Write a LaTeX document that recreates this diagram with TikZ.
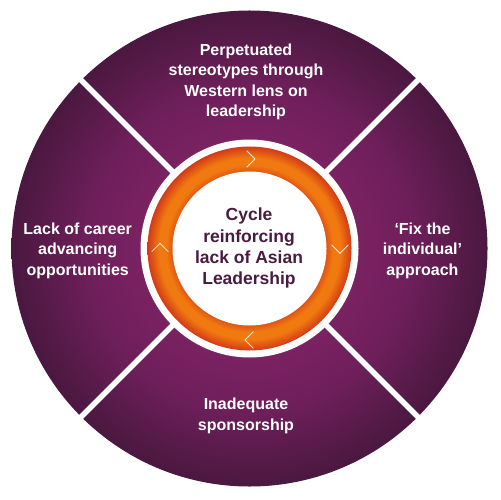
\documentclass[tikz,border=0pt]{standalone}
\usepackage{fontspec}
\setmainfont{Liberation Sans}
\usetikzlibrary{calc}
\definecolor{purpA}{HTML}{7B2263}
\definecolor{purpM}{HTML}{6E1F5A}
\definecolor{purpB}{HTML}{4A1840}
\definecolor{ringR}{HTML}{D43A18}
\definecolor{ringI}{HTML}{E05316}
\definecolor{ringO}{HTML}{F07A10}
\definecolor{centretext}{HTML}{4A1B41}
\pgfdeclareradialshading{purplebg}{\pgfpoint{0bp}{0bp}}{color(0bp)=(purpA); color(11bp)=(purpA); color(17bp)=(purpM); color(25bp)=(purpB); color(50bp)=(purpB)}
\pgfdeclareradialshading{orangering}{\pgfpoint{0bp}{0bp}}{color(0bp)=(ringI); color(18.8bp)=(ringI); color(20.5bp)=(ringO); color(22.2bp)=(ringO); color(25bp)=(ringR); color(50bp)=(ringR)}
\tikzset{
  outertext/.style={text=white, font=\bfseries\fontsize{16bp}{20.5bp}\selectfont, align=center, inner sep=0pt},
  centrelabel/.style={text=centretext, font=\bfseries\fontsize{17.5bp}{21.4bp}\selectfont, align=center, inner sep=0pt},
  divider/.style={white, line width=5.5bp},
  chevron/.style={white, opacity=0.85, line width=0.8bp}
}
\begin{document}
\begin{tikzpicture}[x=1bp,y=-1bp]
\useasboundingbox (0,0) rectangle (500,500);
\fill[white] (0,0) rectangle (500,500);
\coordinate (c) at (249.5,248.5);
% big purple disc
\shade[shading=purplebg] (c) circle (238);
% dividers
\foreach \a/\n in {45/a,135/b,225/c2,315/d}{
  \coordinate (in\n) at ($(c)+(\a:100)$);
  \coordinate (out\n) at ($(c)+(\a:240)$);
  \draw[divider] (in\n) -- (out\n);
}
% white border and orange ring
\fill[white] (c) circle (109);
\shade[shading=orangering] (c) circle (102);
\fill[white] (c) circle (77);
% chevrons (clockwise)
\draw[chevron] (246.7,150.7) -- (255,159) -- (246.7,167.3);
\draw[chevron] (331.7,245) -- (340,253.3) -- (348.3,245);
\draw[chevron] (253.3,331.7) -- (245,340) -- (253.3,348.3);
\draw[chevron] (151.7,251.7) -- (160,243.3) -- (168.3,251.7);
% texts
\node[outertext] (top) at (246,81.8) {Perpetuated\\stereotypes through\\Western lens on\\leadership};
\node[outertext] (left) at (77.7,250.6) {Lack of career\\advancing\\opportunities};
\node[outertext] (right) at (422.5,250.6) {‘Fix the\\individual’\\approach};
\node[outertext] (bottom) at (246,416) {Inadequate\\sponsorship};
\node[centrelabel] (centre) at (249,248.3) {Cycle\\reinforcing\\lack of Asian\\Leadership};
\end{tikzpicture}
\end{document}
